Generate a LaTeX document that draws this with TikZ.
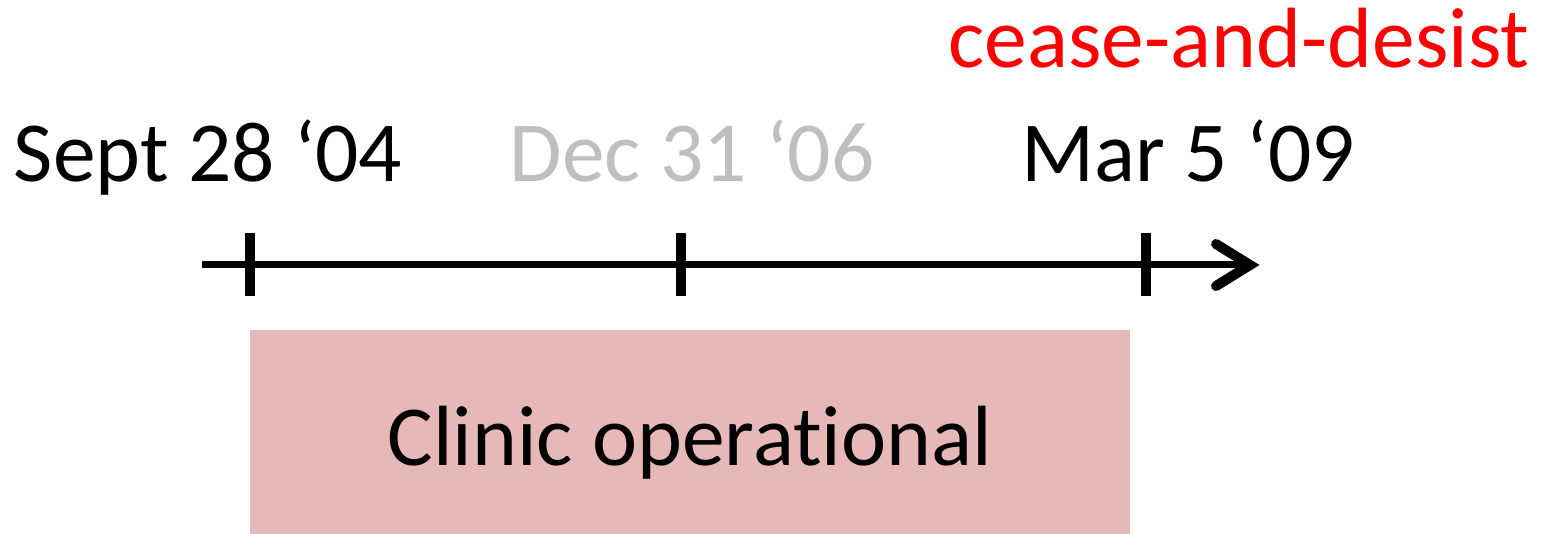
\documentclass[tikz,border=0pt]{standalone}
\usepackage{fontspec}
\setmainfont{Carlito}[Ligatures={NoCommon}]
\definecolor{boxpink}{HTML}{E6B8B7}
\definecolor{lightgray}{HTML}{BFBFBF}
\begin{document}
\begin{tikzpicture}[x=1pt,y=-1pt,
  lbl/.style={inner sep=0pt,anchor=base,font=\fontsize{85.5}{100}\selectfont},
  tick/.style={line width=10pt},
  axis/.style={line width=7pt},
  head/.style={line width=10pt,line cap=round,line join=miter}]
\useasboundingbox (0,0) rectangle (1544,534);
\fill[boxpink] (250,330) rectangle (1130,534);
\node[lbl] (clinic) at (690,465) {Clinic operational};
\coordinate (start) at (202,265);
\coordinate (tip) at (1250,265);
\coordinate (t1) at (250,265);
\coordinate (t2) at (681,265);
\coordinate (t3) at (1146,265);
\draw[axis] (start) -- (tip);
\foreach \t in {t1,t2,t3}{\draw[tick] ([yshift=-31pt]\t) -- ([yshift=32pt]\t);}
\draw[head] ([xshift=-34pt,yshift=-21pt]tip) -- (tip) -- ([xshift=-34pt,yshift=21pt]tip);
\node[lbl] (sept) at (208,182) {Sept 28 ‘04};
\node[lbl,text=lightgray] (dec) at (692,182) {Dec 31 ‘06};
\node[lbl] (mar) at (1188,182) {Mar 5 ‘09};
\node[lbl,text=red] (cease) at (1239,68) {cease-and-desist};
\end{tikzpicture}
\end{document}
